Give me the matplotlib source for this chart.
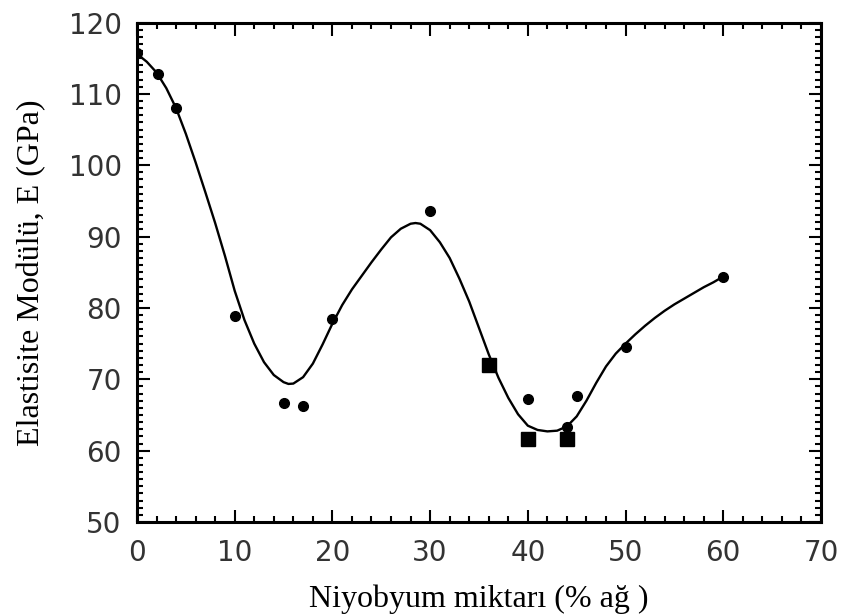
import matplotlib
matplotlib.use("Agg")
import matplotlib.pyplot as plt
from matplotlib.ticker import MultipleLocator

# olculen noktalar (daire)
circle_x = [0, 2.2, 4, 10, 15, 17, 20, 30, 40, 44, 45, 50, 60]
circle_y = [115.7, 112.8, 108.0, 78.9, 66.7, 66.3, 78.4, 93.6, 67.3, 63.3, 67.6, 74.5, 84.4]

# olculen noktalar (kare)
square_x = [36, 40, 44]
square_y = [72.0, 61.7, 61.7]

# egri (resimden okunan noktalar)
curve_x = [0, 1, 2, 3, 4, 5, 6, 7, 8, 9, 10, 11, 12, 13, 14, 15, 15.5, 16, 17, 18, 19, 20,
           21, 22, 23, 24, 25, 26, 27, 28, 28.5, 29, 30, 31, 32, 33, 34, 35, 36, 37, 38,
           39, 40, 41, 42, 43, 44, 45, 46, 47, 48, 49, 50, 51, 52, 53, 54, 55, 56, 57, 58, 59, 60]
curve_y = [115.6, 114.5, 113.0, 110.8, 108.0, 104.4, 100.4, 96.2, 91.9, 87.3, 82.4, 78.3, 75.0, 72.4,
           70.6, 69.6, 69.35, 69.4, 70.3, 72.2, 74.9, 77.8, 80.4, 82.6, 84.5, 86.4, 88.2, 89.9,
           91.1, 91.8, 91.9, 91.8, 90.9, 89.2, 87.0, 84.1, 80.9, 77.2, 73.5, 70.2, 67.4, 65.1,
           63.5, 62.9, 62.7, 62.8, 63.4, 64.8, 67.0, 69.5, 71.8, 73.6, 75.0, 76.3, 77.5, 78.6,
           79.6, 80.5, 81.3, 82.1, 82.9, 83.6, 84.4]

fig = plt.figure(figsize=(8.42, 6.15), dpi=100)
ax = fig.add_axes([0.1627, 0.1512, 0.8123, 0.8122])

ax.plot(curve_x, curve_y, color='black', linewidth=1.7, zorder=2)
ax.plot(circle_x, circle_y, 'o', color='black', markersize=7, zorder=3)
ax.plot(square_x, square_y, 's', color='black', markersize=10, zorder=3)

ax.set_xlim(0, 70)
ax.set_ylim(50, 120)
ax.xaxis.set_major_locator(MultipleLocator(10))
ax.xaxis.set_minor_locator(MultipleLocator(2))
ax.yaxis.set_major_locator(MultipleLocator(10))
ax.yaxis.set_minor_locator(MultipleLocator(1))

ax.tick_params(which='both', direction='in', top=True, right=True, width=1.5, color='black')
ax.tick_params(which='major', length=9, labelsize=20)
ax.tick_params(which='minor', length=4.5)
ax.tick_params(axis='x', which='major', pad=12)
ax.tick_params(axis='y', which='major', pad=11)
for lab in ax.get_xticklabels() + ax.get_yticklabels():
    lab.set_fontfamily('DejaVu Sans')
    lab.set_color('#333333')
for sp in ax.spines.values():
    sp.set_linewidth(2.2)

ax.set_xlabel('Niyobyum miktarı (% ağ )', family='Liberation Serif', fontsize=23, labelpad=13)
ax.set_ylabel('Elastisite Modülü, E (GPa)', family='Liberation Serif', fontsize=23, labelpad=16)

fig.savefig('out.png', dpi=100)
